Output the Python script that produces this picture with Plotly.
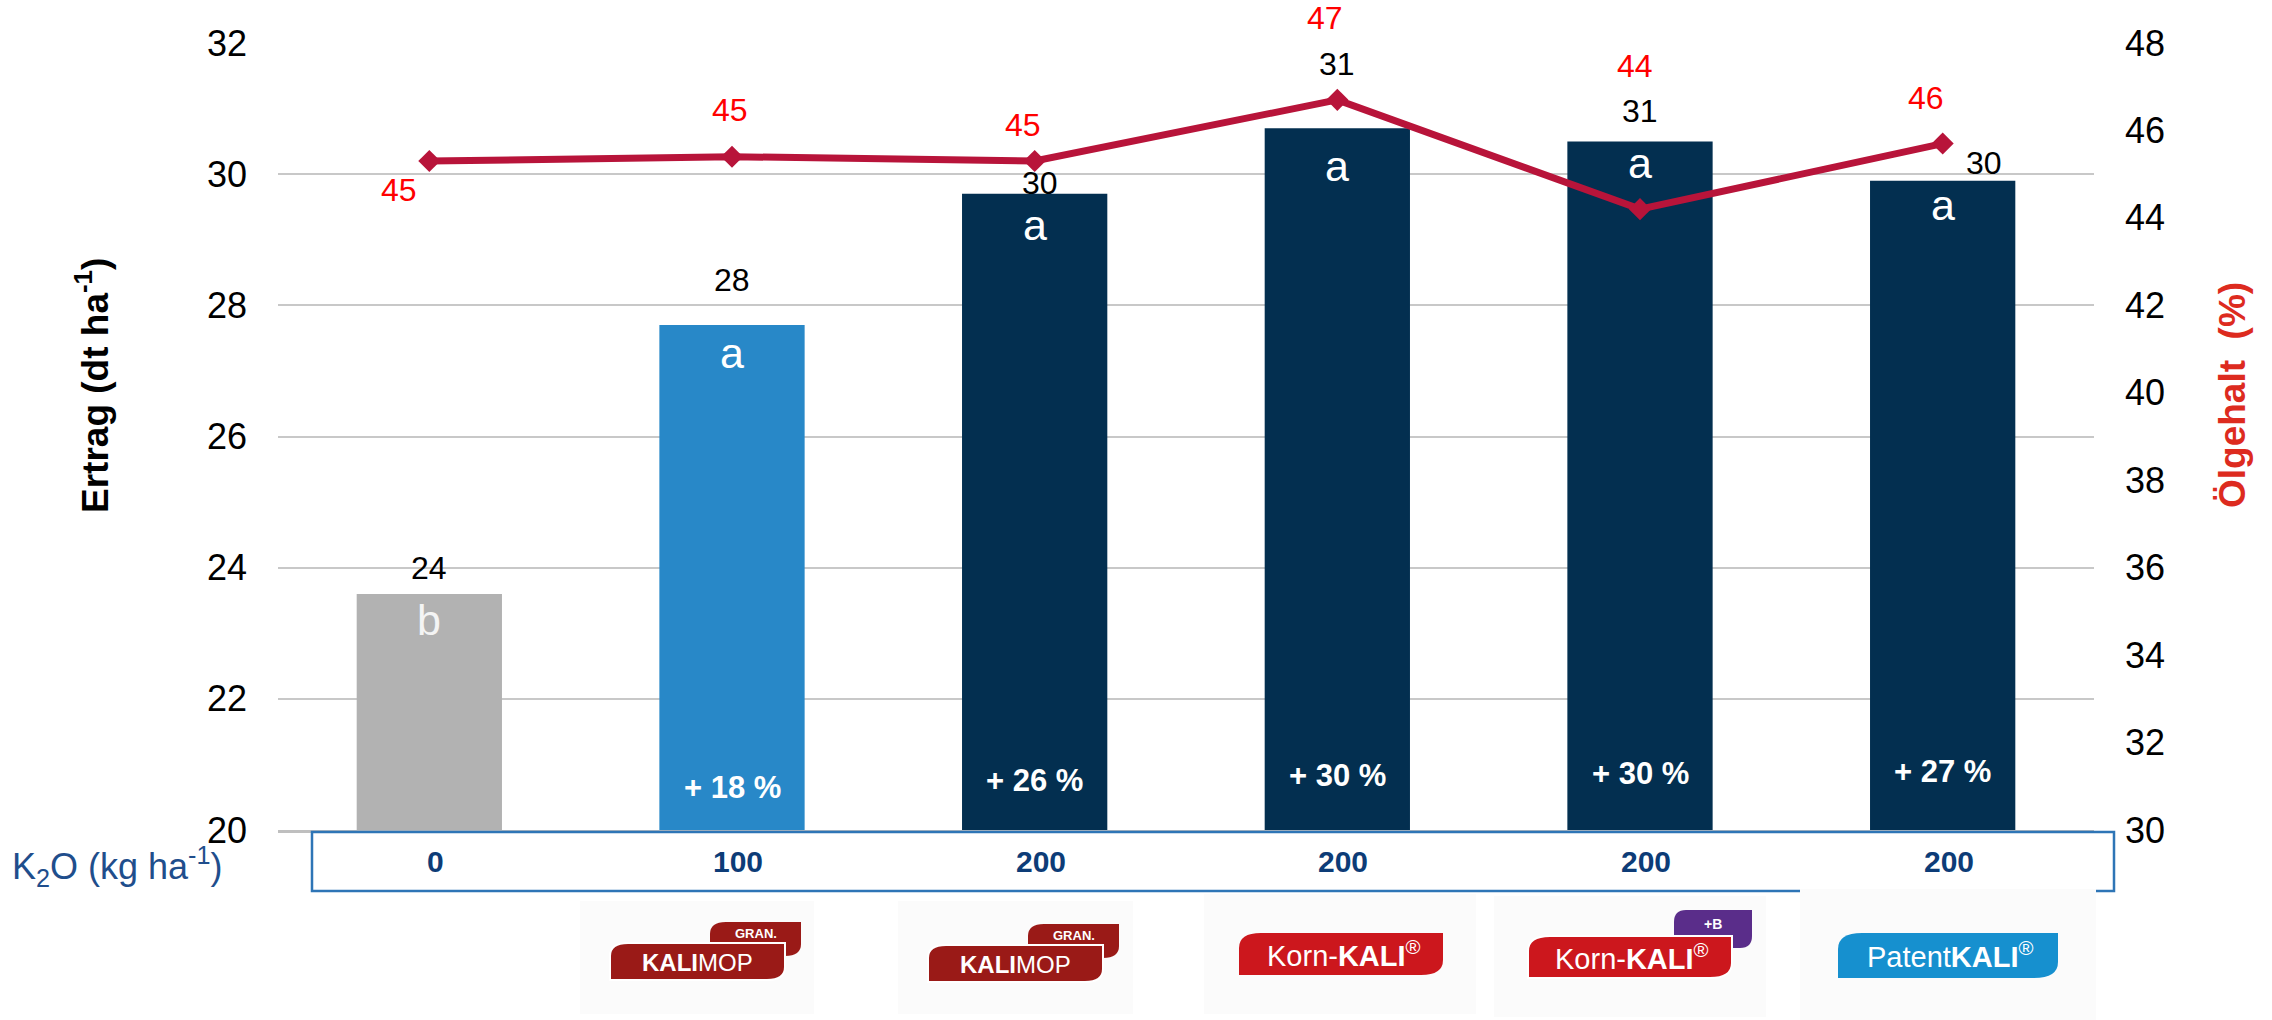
import plotly.graph_objects as go

# ---------------- data ----------------
categories = ["Kontrolle", "KALIMOP gran. 100", "KALIMOP gran. 200",
              "Korn-KALI 200", "Korn-KALI +B 200", "PatentKALI 200"]
ertrag = [23.6, 27.7, 29.7, 30.7, 30.5, 29.9]
ertrag_labels = ["24", "28", "30", "31", "31", "30"]
oelgehalt = [45.3, 45.4, 45.3, 46.7, 44.2, 45.7]
oel_labels = ["45", "45", "45", "47", "44", "46"]
signif = ["b", "a", "a", "a", "a", "a"]
mehrertrag = ["", "+ 18 %", "+ 26 %", "+ 30 %", "+ 30 %", "+ 27 %"]
k2o = ["0", "100", "200", "200", "200", "200"]
y1_ticks = [20, 22, 24, 26, 28, 30, 32]
y2_ticks = [30, 32, 34, 36, 38, 40, 42, 44, 46, 48]

# ---------------- style ----------------
W, H = 2272, 1020
PL, PR, PT, PB = 278, 2094, 43, 830
FONT = "Liberation Sans, Arial, sans-serif"
bar_colors = ["#B2B2B2", "#2888C8", "#032F50", "#032F50", "#032F50", "#032F50"]
line_color = "#B8143A"

val_shift = [(0, 26), (0, 45), (5, 11), (0, 64), (0, 30), (41, 18)]
oel_shift = [(-30, -29), (-2, 47), (-12, 36), (-12, 82), (-5, 143), (-17, 46)]
sig_shift = [-26, -28, -31, -38, -22, -24]
pct_shift = [43, 43, 50, 55, 57, 59]


def px(x):
    return (x - PL) / (PR - PL)


def py(y):
    return (PB - y) / (PB - PT)


def tab_path(x0, y0, x1, y1, rx=18, ry=14):
    return (f"M {px(x0)},{py(y1)} L {px(x0)},{py(y0 + ry)} "
            f"Q {px(x0)},{py(y0)} {px(x0 + rx)},{py(y0)} "
            f"L {px(x1)},{py(y0)} L {px(x1)},{py(y1 - ry)} "
            f"Q {px(x1)},{py(y1)} {px(x1 - rx)},{py(y1)} Z")


def txt(**kw):
    d = dict(showarrow=False, xanchor="center", yanchor="middle")
    d.update(kw)
    return d


fig = go.Figure()
fig.add_trace(go.Bar(
    x=categories, y=ertrag, marker_color=bar_colors, width=0.48,
    marker_line_width=0, yaxis="y", hoverinfo="skip"))
fig.add_trace(go.Scatter(
    x=categories, y=oelgehalt, yaxis="y2", mode="lines+markers",
    line=dict(color=line_color, width=7),
    marker=dict(symbol="diamond", size=17, color=line_color),
    hoverinfo="skip"))

ann = []
for i, c in enumerate(categories):
    ann.append(txt(x=c, y=ertrag[i], xref="x", yref="y", text=ertrag_labels[i],
                   xshift=val_shift[i][0], yshift=val_shift[i][1],
                   font=dict(family=FONT, size=32, color="#000000")))
    ann.append(txt(x=c, y=oelgehalt[i], xref="x", yref="y2", text=oel_labels[i],
                   xshift=oel_shift[i][0], yshift=oel_shift[i][1],
                   font=dict(family=FONT, size=32, color="#FF0000")))
    ann.append(txt(x=c, y=ertrag[i], xref="x", yref="y", text=signif[i],
                   yshift=sig_shift[i],
                   font=dict(family=FONT, size=43,
                             color="#F4F4F4" if i == 0 else "#FFFFFF")))
    if mehrertrag[i]:
        ann.append(txt(x=c, y=0, xref="x", yref="paper", text=f"<b>{mehrertrag[i]}</b>",
                       yshift=pct_shift[i],
                       font=dict(family=FONT, size=31, color="#FFFFFF")))
    ann.append(txt(x=c, y=py(862), xref="x", yref="paper", text=f"<b>{k2o[i]}</b>",
                   xshift=6, font=dict(family=FONT, size=30, color="#0D3C77")))

ann.append(txt(x=px(10), y=py(866), xref="paper", yref="paper", xanchor="left",
               text="K<sub>2</sub>O (kg ha<sup>-1</sup>)",
               font=dict(family=FONT, size=36, color="#1F4E8C")))
ann.append(txt(x=px(92), y=py(386), xref="paper", yref="paper", textangle=-90,
               text="<b>Ertrag (dt ha<sup>-1</sup>)</b>",
               font=dict(family=FONT, size=37, color="#000000")))
ann.append(txt(x=px(2233), y=py(395), xref="paper", yref="paper", textangle=-90,
               text="<b>Ölgehalt\u00a0 (%)</b>",
               font=dict(family=FONT, size=37, color="#DD2B1F")))

shapes = []
shapes.append(dict(type="rect", xref="paper", yref="paper",
                   x0=px(312), x1=px(2114), y0=py(832), y1=py(891),
                   line=dict(color="#2E75B6", width=2.5), fillcolor="rgba(0,0,0,0)"))

for (x0, y0, x1, y1) in [(580, 901, 814, 1014), (898, 901, 1133, 1014),
                         (1204, 894, 1476, 1014), (1494, 896, 1766, 1017),
                         (1800, 889, 2096, 1020)]:
    shapes.append(dict(type="rect", xref="paper", yref="paper",
                       x0=px(x0), x1=px(x1), y0=py(y0), y1=py(y1),
                       line=dict(width=0), fillcolor="#FBFBFB"))

mop_red = "#9A1A17"
korn_red = "#CC171D"
for (bx, by) in [(580, 901), (898, 903)]:
    gx0, gx1 = bx + 130, bx + 221
    mx0, mx1 = bx + 30, bx + 205
    shapes.append(dict(type="path", xref="paper", yref="paper",
                       path=tab_path(gx0, by + 21, gx1, by + 55, rx=16, ry=12),
                       fillcolor=mop_red, line=dict(width=0)))
    shapes.append(dict(type="path", xref="paper", yref="paper",
                       path=tab_path(mx0, by + 42, mx1, by + 79, rx=18, ry=13),
                       fillcolor=mop_red, line=dict(color="#FFFFFF", width=2)))
    ann.append(txt(x=px((mx0 + mx1) / 2), y=py(by + 61), xref="paper", yref="paper",
                   text="<b>KALI</b>MOP",
                   font=dict(family=FONT, size=24, color="#FFFFFF")))
    ann.append(txt(x=px(gx0 + 46), y=py(by + 32), xref="paper", yref="paper",
                   text="<b>GRAN.</b>",
                   font=dict(family=FONT, size=13, color="#FFFFFF")))

shapes.append(dict(type="path", xref="paper", yref="paper",
                   path=tab_path(1239, 933, 1443, 975, rx=22, ry=15),
                   fillcolor=korn_red, line=dict(width=0)))
ann.append(txt(x=px(1344), y=py(954), xref="paper", yref="paper",
               text="Korn-<b>KALI</b><sup>®</sup>",
               font=dict(family=FONT, size=29, color="#FFFFFF")))

shapes.append(dict(type="path", xref="paper", yref="paper",
                   path=tab_path(1674, 910, 1752, 948, rx=12, ry=12),
                   fillcolor="#5A2D8A", line=dict(width=0)))
shapes.append(dict(type="path", xref="paper", yref="paper",
                   path=tab_path(1528, 936, 1732, 978, rx=22, ry=15),
                   fillcolor=korn_red, line=dict(color="#FFFFFF", width=2)))
ann.append(txt(x=px(1632), y=py(957), xref="paper", yref="paper",
               text="Korn-<b>KALI</b><sup>®</sup>",
               font=dict(family=FONT, size=29, color="#FFFFFF")))
ann.append(txt(x=px(1713), y=py(924), xref="paper", yref="paper",
               text="<b>+B</b>",
               font=dict(family=FONT, size=14, color="#FFFFFF")))

shapes.append(dict(type="path", xref="paper", yref="paper",
                   path=tab_path(1838, 933, 2058, 978, rx=24, ry=16),
                   fillcolor="#1690CF", line=dict(width=0)))
ann.append(txt(x=px(1950), y=py(955), xref="paper", yref="paper",
               text="Patent<b>KALI</b><sup>®</sup>",
               font=dict(family=FONT, size=29, color="#FFFFFF")))

fig.update_layout(
    width=W, height=H, autosize=False,
    margin=dict(l=PL, r=W - PR, t=PT, b=H - PB, pad=0),
    plot_bgcolor="#FFFFFF", paper_bgcolor="#FFFFFF",
    showlegend=False,
    font=dict(family=FONT, color="#000000"),
    xaxis=dict(type="category", showticklabels=False, showgrid=False,
               showline=True, linecolor="#BFBFBF", linewidth=2.5,
               ticks="", zeroline=False, fixedrange=True),
    yaxis=dict(range=[20, 32], tickvals=y1_ticks, showgrid=True,
               gridcolor="#C8C8C8", gridwidth=1.5, zeroline=False,
               showline=False, ticks="", ticklabelstandoff=30,
               tickfont=dict(family=FONT, size=36, color="#000000")),
    yaxis2=dict(range=[30, 48], tickvals=y2_ticks, overlaying="y", side="right",
                showgrid=False, zeroline=False, showline=False, ticks="",
                ticklabelstandoff=30,
                tickfont=dict(family=FONT, size=36, color="#000000")),
    annotations=ann,
    shapes=shapes,
)

fig.write_html("out.html", config={"displayModeBar": False},
               post_script="document.body.style.margin='0px';")
